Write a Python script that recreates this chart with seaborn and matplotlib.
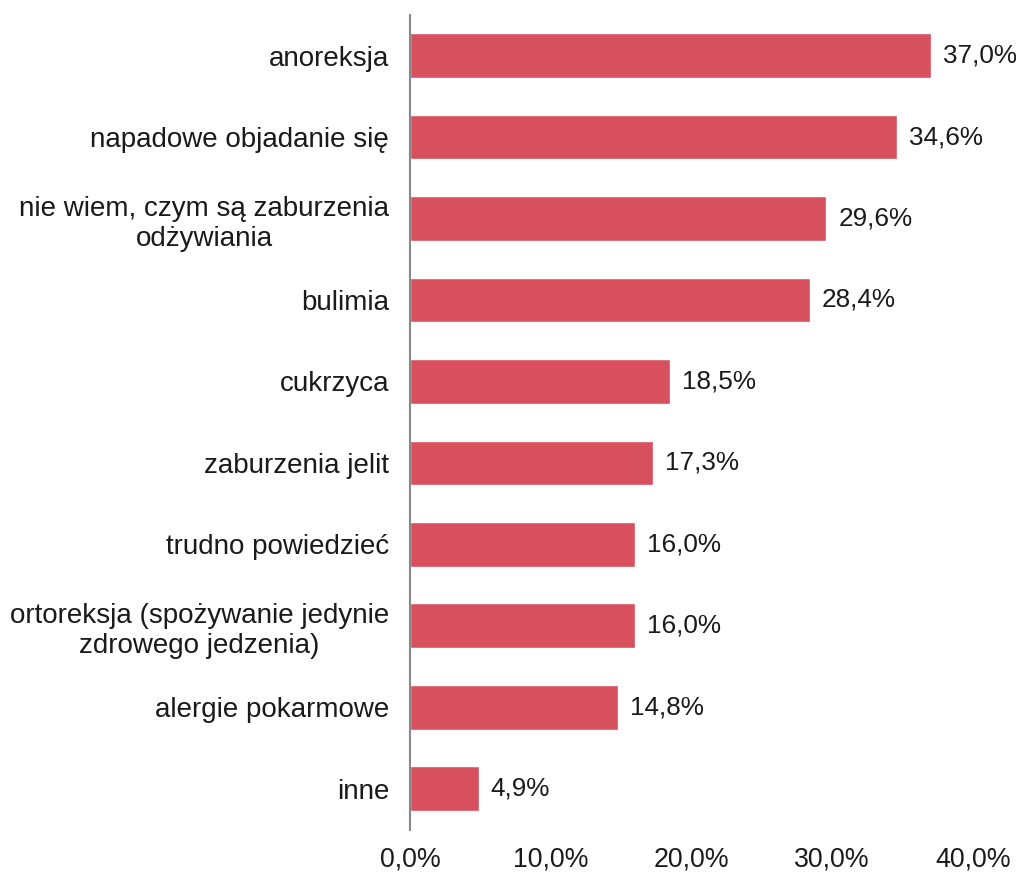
import matplotlib
matplotlib.use("Agg")
import matplotlib.pyplot as plt
import seaborn as sns
import pandas as pd

categories = [
    "anoreksja",
    "napadowe objadanie się",
    "nie wiem, czym są zaburzenia\nodżywiania",
    "bulimia",
    "cukrzyca",
    "zaburzenia jelit",
    "trudno powiedzieć",
    "ortoreksja (spożywanie jedynie\nzdrowego jedzenia)",
    "alergie pokarmowe",
    "inne",
]
values = [37.0, 34.6, 29.6, 28.4, 18.5, 17.3, 16.0, 16.0, 14.8, 4.9]
xticks = [0, 10, 20, 30, 40]
xtick_labels = ["0,0%", "10,0%", "20,0%", "30,0%", "40,0%"]

df = pd.DataFrame({"cat": categories, "val": values})

sns.set_theme(style="white")
plt.rcParams["font.family"] = ["Liberation Sans", "DejaVu Sans"]

fig = plt.figure(figsize=(10.16, 8.75), dpi=100)
ax = fig.add_axes([0.4035, 0.052, 0.554, 0.931])

sns.barplot(data=df, y="cat", x="val", orient="h", color="#D8505E",
            saturation=1, width=0.55, ax=ax)

for i, v in enumerate(values):
    ax.text(v + 0.85, i, f"{v:.1f}%".replace(".", ","), va="center", ha="left",
            fontsize=18.8, color="#1a1a1a")

ax.set_xlim(0, 40)
ax.set_xticks(xticks)
ax.set_xticklabels(xtick_labels, fontsize=19.3, color="#1a1a1a")
ax.tick_params(axis="x", length=0, pad=12)
ax.tick_params(axis="y", length=0, pad=15)
for lbl in ax.get_yticklabels():
    lbl.set_fontsize(20)
    lbl.set_color("#1a1a1a")
    lbl.set_multialignment("center")
    lbl.set_linespacing(1.22)
ax.set_xlabel("")
ax.set_ylabel("")
for s in ["top", "right", "bottom"]:
    ax.spines[s].set_visible(False)
ax.spines["left"].set_color("#888888")
ax.spines["left"].set_linewidth(1.5)

fig.savefig("out.png", dpi=100)
